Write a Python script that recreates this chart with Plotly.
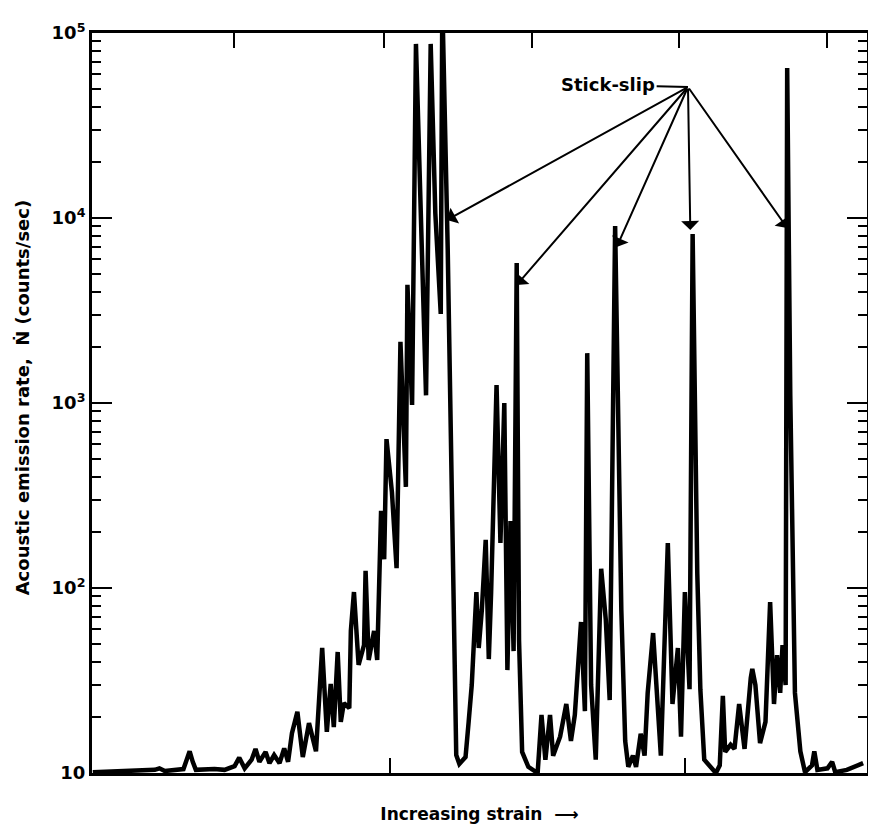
import plotly.graph_objects as go

# Strain (arbitrary units, 0-100 across the axis) and acoustic emission rate (counts/sec)
strain = [0.1, 4.9, 8.1, 8.7, 9.4, 11.8, 12.2, 12.6, 13.0, 13.4, 15.8, 17.1, 18.4, 19.0, 19.7,
          20.6, 21.1, 21.6, 22.4, 22.9, 23.5, 24.2, 24.8, 25.3, 25.8, 26.5, 27.2, 28.0, 28.9,
          29.7, 30.3, 30.8, 31.2, 31.7, 32.1, 32.5, 33.2, 33.4, 33.8, 34.4, 35.1, 35.3, 35.7,
          36.4, 36.8, 37.3, 37.7, 38.0, 38.7, 39.3, 39.8, 40.5, 40.7, 41.3, 41.8, 42.4, 43.1,
          43.7, 44.3, 45.0, 45.2, 45.9, 46.7, 47.0, 47.4, 48.2, 48.6, 49.0, 49.6, 49.9, 50.3,
          50.8, 51.2, 51.5, 52.2, 52.7, 53.2, 53.6, 54.0, 54.4, 54.8, 55.1, 55.5, 56.3, 57.5,
          58.0, 58.5, 59.1, 59.5, 60.4, 61.2, 61.8, 62.3, 63.1, 63.6, 63.9, 64.4, 65.0, 65.7,
          66.3, 66.8, 67.5, 68.3, 68.8, 69.2, 69.8, 70.2, 70.8, 71.3, 71.7, 72.4, 73.0, 73.4,
          74.3, 74.9, 75.6, 76.0, 76.5, 77.1, 77.5, 78.1, 78.5, 79.0, 80.5, 81.0, 81.4, 81.7,
          82.4, 82.9, 83.5, 84.2, 85.0, 85.2, 85.6, 86.2, 86.9, 87.5, 88.0, 88.4, 88.8, 89.1,
          89.5, 89.7, 90.1, 90.7, 91.4, 92.0, 92.9, 93.2, 93.6, 94.9, 95.5, 95.9, 97.4, 98.7,
          99.5]
rate = [10.1, 10.25, 10.4, 10.6, 10.25, 10.5, 11.8, 13.1, 11.5, 10.4, 10.5, 10.4, 10.9, 12.1,
        10.6, 11.8, 13.5, 11.5, 13.0, 11.3, 12.5, 11.3, 13.6, 11.5, 16.4, 21.4, 12.2, 18.6,
        13.1, 47.4, 16.7, 30.3, 17.7, 45.1, 18.9, 23.9, 22.4, 58.6, 95.1, 38.4, 49.2, 124,
        40.8, 58.6, 40.8, 261, 143, 638, 330, 128, 2140, 352, 4350, 975, 87300, 12500, 1100,
        87300, 10600, 3030, 150000, 6710, 86, 12.5, 11.2, 12.2, 18.9, 29.9, 95, 47.4, 76, 182,
        41.3, 95, 1250, 175, 1000, 36, 230, 45.6, 5710, 52.4, 13.0, 10.8, 10.0, 20.6, 11.8,
        20.6, 12.4, 15.7, 23.6, 14.9, 20.6, 65.5, 21.6, 1860, 29.9, 11.8, 127, 67.1, 24.8,
        9060, 76, 14.9, 10.8, 12.4, 10.8, 16.3, 12.4, 27.1, 57.1, 20.6, 12.4, 175, 23.6, 47.4,
        15.7, 95, 28.4, 8200, 120, 28.1, 11.8, 10.0, 11.0, 26.1, 13.0, 14.2, 13.5, 23.6, 13.5,
        32.6, 36.5, 29.9, 14.5, 18.9, 84, 23.6, 43.4, 27.1, 49.2, 29.9, 64700, 1100, 27.1,
        13.1, 10.1, 11.0, 13.1, 10.4, 10.6, 11.5, 10.1, 10.4, 11.0, 11.3]

ytick_vals = [10, 100, 1000, 10000, 100000]
ytick_text = ["<b>10</b>", "<b>10<sup>2</sup></b>", "<b>10<sup>3</sup></b>",
              "<b>10<sup>4</sup></b>", "<b>10<sup>5</sup></b>"]
minor_vals = [m * d for d in [10, 100, 1000, 10000] for m in range(2, 10)]
bottom_ticks = [38.5, 76.5]
top_ticks = [18.3, 37.7, 56.8, 75.8, 94.9]

y_title = "<b>Acoustic emission rate,  \u1E44 (counts/sec)</b>"
x_title = "<b>Increasing strain  \u27F6</b>"

# Stick-slip annotation: common origin and arrow targets (strain, log10 rate)
label_origin = (76.9, 4.708)
label_text_pos = (66.6, 4.719)
arrow_targets = [(45.8, 3.989), (54.8, 3.638), (67.7, 3.843), (77.2, 3.935), (89.7, 3.946)]

FONT = "DejaVu Sans"

fig = go.Figure()
fig.add_trace(go.Scatter(x=strain, y=rate, mode="lines",
                         line=dict(color="black", width=4.5), hoverinfo="skip",
                         showlegend=False))
fig.add_trace(go.Scatter(x=strain, y=rate, mode="lines", xaxis="x2",
                         line=dict(color="rgba(0,0,0,0)", width=0), hoverinfo="skip",
                         showlegend=False))

annotations = []
for tx, ty in arrow_targets:
    annotations.append(dict(x=tx, y=ty, xref="x", yref="y", ax=label_origin[0], ay=label_origin[1],
                            axref="x", ayref="y", text="", showarrow=True, arrowhead=1,
                            arrowsize=1.5, arrowwidth=2, arrowcolor="black"))
annotations.append(dict(x=label_origin[0], y=label_origin[1], xref="x", yref="y",
                        ax=label_text_pos[0], ay=label_text_pos[1], axref="x", ayref="y",
                        text="<b>Stick-slip</b>", showarrow=True, arrowhead=0, arrowwidth=2,
                        arrowcolor="black", font=dict(family=FONT, size=18, color="black")))
annotations.append(dict(x=-0.09, y=0.508, xref="paper", yref="paper", text=y_title,
                        textangle=-90, showarrow=False, xanchor="center", yanchor="middle",
                        font=dict(family=FONT, size=18, color="black")))

fig.update_layout(
    width=868, height=826,
    margin=dict(l=84, r=6, t=25, b=61),
    paper_bgcolor="white", plot_bgcolor="white",
    font=dict(family=FONT, color="black"),
    annotations=annotations,
    xaxis=dict(range=[0, 100], showline=True, linecolor="black", linewidth=3, mirror=True,
               ticks="inside", tickvals=bottom_ticks, ticklen=15, tickwidth=2, tickcolor="black",
               showticklabels=False, showgrid=False, zeroline=False,
               title=dict(text=x_title, standoff=34, font=dict(family=FONT, size=17))),
    xaxis2=dict(range=[0, 100], overlaying="x", side="top", anchor="y", showline=False,
                ticks="inside", tickvals=top_ticks, ticklen=15, tickwidth=2, tickcolor="black",
                showticklabels=False, showgrid=False, zeroline=False),
    yaxis=dict(type="log", range=[1, 5], showline=True, linecolor="black", linewidth=3,
               mirror="ticks", ticks="inside", tickvals=ytick_vals, ticktext=ytick_text,
               ticklen=20, tickwidth=2, tickcolor="black", showgrid=False, zeroline=False,
               tickfont=dict(family=FONT, size=18),
               minor=dict(tickmode="array", tickvals=minor_vals, ticks="inside", ticklen=9,
                          tickwidth=2, tickcolor="black", showgrid=False)),
)

fig.write_html("out.html")
